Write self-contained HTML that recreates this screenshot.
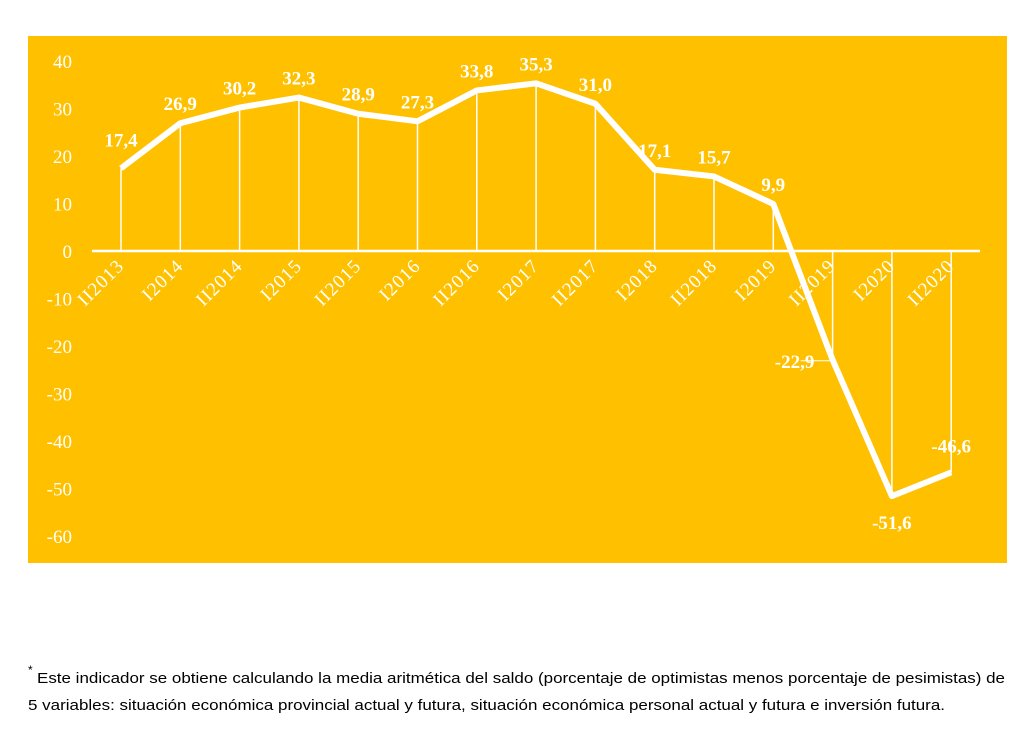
<!DOCTYPE html>
<html><head><meta charset="utf-8"><style>
html,body{margin:0;padding:0;background:#fff;width:1024px;height:754px;overflow:hidden}
svg{display:block}
</style></head><body>
<svg id="chart" width="1024" height="754" viewBox="0 0 1024 754">
<rect x="28" y="36" width="979" height="527" fill="#FFC000"/>
<g id="grid"></g><g id="axis"></g><g id="series"></g><g id="labels"></g>
<text x="28" y="674" font-family="Liberation Sans, sans-serif" font-size="12" fill="#000">*</text>
<text x="37" y="683" font-family="Liberation Sans, sans-serif" font-size="15" fill="#000" textLength="968" lengthAdjust="spacingAndGlyphs">Este indicador se obtiene calculando la media aritmética del saldo (porcentaje de optimistas menos porcentaje de pesimistas) de</text>
<text x="28" y="710" font-family="Liberation Sans, sans-serif" font-size="15" fill="#000" textLength="917" lengthAdjust="spacingAndGlyphs">5 variables: situación económica provincial actual y futura, situación económica personal actual y futura e inversión futura.</text>
</svg>
<script>
const categories=["II2013","I2014","II2014","I2015","II2015","I2016","II2016","I2017","II2017","I2018","II2018","I2019","II2019","I2020","II2020"];
const values=[17.4,26.9,30.2,32.3,28.9,27.3,33.8,35.3,31.0,17.1,15.7,9.9,-22.9,-51.6,-46.6];
const yTicks=[40,30,20,10,0,-10,-20,-30,-40,-50,-60];
const NS="http://www.w3.org/2000/svg";
const x0=121, step=59.3;
function xs(i){return x0+i*step;}
function ys(v){return 251-v*4.75;}
function mk(tag,attrs,parent,text){const e=document.createElementNS(NS,tag);for(const k in attrs)e.setAttribute(k,attrs[k]);if(text!==undefined)e.textContent=text;document.getElementById(parent).appendChild(e);return e;}
const serif="Liberation Serif, serif";
yTicks.forEach(t=>{
 const e=mk('text',{x:72,y:ys(t)+7,'text-anchor':'end','font-family':serif,'font-size':19,fill:'#fff'},'axis',String(t));
 
 
});
const ax=mk('line',{x1:92,x2:980,y1:ys(0),y2:ys(0),stroke:'#fff','stroke-width':2.5},'axis');


categories.forEach((c,i)=>{
 const x=xs(i);
 const dl=mk('line',{x1:x,x2:x,y1:ys(0),y2:ys(values[i]),stroke:'#fff','stroke-width':1.5},'grid');
 
 
 const lx=x+4, ly=ys(0)+16;
 const t=mk('text',{x:lx,y:ly,'text-anchor':'end','font-family':serif,'font-size':19,fill:'#fff','letter-spacing':1,transform:`rotate(-45 ${lx} ${ly})`},'axis',c);
 
 
});
const pts=values.map((v,i)=>xs(i)+','+ys(v)).join(' ');
const pl=mk('polyline',{points:pts,fill:'none',stroke:'#fff','stroke-width':6,'stroke-linejoin':'round'},'series');


values.forEach((v,i)=>{
 let x=xs(i), y=ys(v)-13, anchor='middle';
 const s=v.toFixed(1).replace('.',',');
 if(i===12){x=xs(i)-38;y=ys(v)+8;
  const ld=mk('line',{x1:xs(i)-32,x2:xs(i)-3,y1:ys(v)+1,y2:ys(v)+1,stroke:'#fff','stroke-width':1},'labels');
  
  
 }
 if(i===13){y=ys(v)+33;}
 if(i===14){y=ys(v)-20;}
 if(i===0){y=ys(v)-22;}
 const t=mk('text',{x:x,y:y,'text-anchor':anchor,'font-family':serif,'font-size':19,'font-weight':'bold',fill:'#fff'},'labels',s);
 
 
});
</script>
</body></html>
